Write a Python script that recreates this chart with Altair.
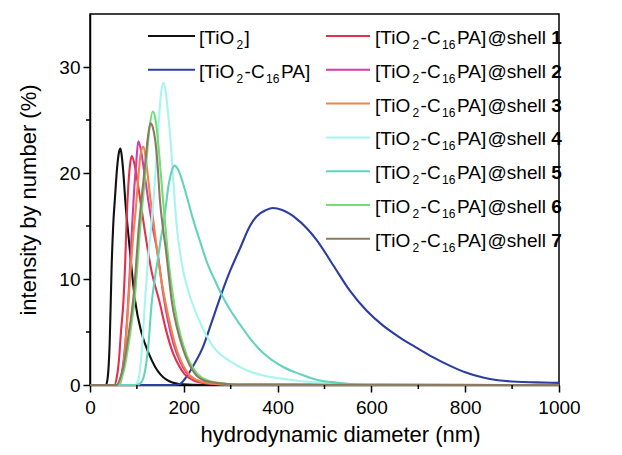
import altair as alt
import pandas as pd

FONT = "Liberation Sans"

# ---------------- data ----------------
series_keys = ["TiO2", "TiO2-C16PA", "shell 1", "shell 2", "shell 3",
               "shell 4", "shell 5", "shell 6", "shell 7"]
series_colors = ["#111111", "#2b3ea0", "#e0324c", "#d23ca8", "#ee8544",
                 "#a8f4ee", "#63d4bc", "#74de74", "#8a7a62"]

tio2_x = [0, 34, 38, 42, 46, 50, 53, 58, 62, 65, 68, 72, 75, 80, 85, 96, 110, 125, 139, 163, 190, 250, 1000]
tio2_y = [0, 0, 0.8, 4, 11, 15.5, 17.5, 20.6, 22, 22.3, 21.5, 19.5, 17.5, 15, 12.7, 8, 4.9, 3, 1.7, 0.5, 0.1, 0, 0]

pa_x = [0, 100, 180, 192, 206, 220, 241, 260, 281, 300, 320, 341, 355, 375, 390, 410, 440, 483,
        520, 554, 590, 625, 660, 697, 730, 768, 800, 838, 870, 910, 950, 1000]
pa_y = [0, 0, 0, 0.1, 0.8, 1.8, 3.6, 6, 8.7, 10.9, 12.9, 15.0, 15.9, 16.5, 16.7, 16.5, 15.7, 13.7,
        11.2, 8.9, 7.0, 5.6, 4.5, 3.5, 2.65, 1.8, 1.2, 0.7, 0.45, 0.3, 0.25, 0.2]

s1_x = [0, 52, 57, 62, 66, 71, 75, 78, 82, 86, 89, 95, 102, 107, 117, 130, 149, 162, 177, 190, 202, 220, 250, 300, 1000]
s1_y = [0, 0, 0.7, 2.5, 5, 7.7, 11.5, 15.5, 19, 21, 21.6, 20.8, 19, 17.5, 14.5, 11, 7.7, 5.2, 3, 1.8, 1.0, 0.45, 0.15, 0.05, 0]

s2_x = [0, 60, 66, 72, 78, 84, 89, 94, 98, 103, 108, 115, 124, 134, 145, 156, 166, 178, 192, 205, 225, 255, 300, 1000]
s2_y = [0, 0, 0.7, 2.5, 5.5, 10, 14.3, 18.3, 20.6, 23, 22.3, 20.3, 17.5, 14.8, 12.2, 8.6, 6.1, 3.9, 2.2, 1.2, 0.5, 0.15, 0.03, 0]

s3_x = [0, 62, 68, 74, 80, 86, 92, 98, 103, 108, 114, 121, 129, 136, 143, 151, 160, 172, 185, 198, 213, 235, 270, 320, 1000]
s3_y = [0, 0, 0.8, 3, 6.5, 10.5, 14, 16.8, 19.6, 21.8, 22.5, 20.6, 17.5, 15.2, 12.7, 10.2, 8, 5.5, 3.3, 1.9, 0.9, 0.35, 0.1, 0.02, 0]

s4_x = [0, 95, 102, 110, 117, 124, 131, 139, 146, 151, 156, 161, 166, 171, 177, 185, 192, 200, 210, 220,
        240, 263, 300, 334, 370, 426, 480, 550, 650, 1000]
s4_y = [0, 0, 0.3, 3, 7.7, 12, 15.2, 19.6, 24.4, 27.3, 28.5, 27.8, 25.8, 23.5, 19.6, 15, 12.5, 10.5, 8.8, 7.5,
        5.4, 3.6, 2.2, 1.4, 0.9, 0.5, 0.25, 0.1, 0, 0]

s5_x = [0, 100, 110, 118, 125, 131, 138, 145, 151, 156, 162, 167, 173, 180, 187, 195, 205, 220, 235, 250,
        265, 281, 300, 320, 341, 370, 412, 450, 483, 530, 600, 1000]
s5_y = [0, 0, 0.3, 1.5, 4, 7.5, 10, 12, 13.8, 15, 17, 18.7, 20, 20.7, 20.4, 19.5, 18, 15.6, 13.5, 11.5,
        10, 8.5, 7, 5.7, 4.4, 3, 1.7, 1, 0.5, 0.2, 0, 0]

s6_x = [0, 60, 67, 74, 81, 88, 95, 101, 106, 113, 120, 127, 134, 139, 144, 149, 155, 162, 168, 175,
        187, 200, 213, 228, 250, 290, 340, 1000]
s6_y = [0, 0, 0.6, 1.7, 3.5, 5.6, 8, 11.2, 14.3, 17.6, 21, 24.3, 25.8, 25.2, 23.5, 21, 17.8, 14.3, 11.5, 9,
        5.8, 3.6, 2.1, 1.1, 0.45, 0.12, 0.03, 0]

s7_x = [0, 57, 64, 71, 78, 85, 92, 98, 103, 110, 117, 123, 129, 134, 139, 144, 149, 155, 162, 168, 174,
        186, 199, 212, 227, 250, 290, 340, 1000]
s7_y = [0, 0, 0.6, 1.7, 3.5, 5.6, 8, 11.2, 14.3, 17.6, 20.6, 23.2, 24.7, 24.3, 23.1, 20.8, 17.5, 15, 12.7, 10.3, 8,
        5.3, 3.3, 1.9, 0.9, 0.35, 0.1, 0.02, 0]

curve_x = [tio2_x, pa_x, s1_x, s2_x, s3_x, s4_x, s5_x, s6_x, s7_x]
curve_y = [tio2_y, pa_y, s1_y, s2_y, s3_y, s4_y, s5_y, s6_y, s7_y]

x_major_ticks = [0, 200, 400, 600, 800, 1000]
x_minor_ticks = [100, 300, 500, 700, 900]
y_major_ticks = [0, 10, 20, 30]
y_minor_ticks = [5, 15, 25]

# ---------------- layout ----------------
W, H = 469, 371
x_scale = alt.Scale(domain=[0, 1000], nice=False, zero=False)
y_scale = alt.Scale(domain=[0, 35], nice=False, zero=False)

common = dict(domainColor="black", domainWidth=1.5, tickColor="black", tickWidth=1.5,
              grid=False, labelColor="black", titleColor="black", labelFont=FONT,
              titleFont=FONT, titleFontWeight="normal")

x_axis = alt.Axis(values=x_major_ticks, tickSize=7, labelFontSize=19, labelPadding=6,
                  labelFlush=False, format="d", title="hydrodynamic diameter (nm)",
                  titleFontSize=22, titlePadding=7, titleX=250, orient="bottom", **common)
y_axis = alt.Axis(values=y_major_ticks, tickSize=7, labelFontSize=19, labelPadding=3,
                  format="d", title="intensity by number (%)", titleFontSize=22,
                  titlePadding=18, orient="left", **common)

curve_layers = []
for i, (key, col) in enumerate(zip(series_keys, series_colors)):
    df = pd.DataFrame({"x": curve_x[i], "y": curve_y[i]})
    curve_layers.append(
        alt.Chart(df).mark_line(color=col, strokeWidth=2.1, interpolate="monotone").encode(
            x=alt.X("x:Q", scale=x_scale, axis=x_axis),
            y=alt.Y("y:Q", scale=y_scale, axis=y_axis),
        )
    )

# minor ticks (outward, shorter)
minor_x_layer = alt.Chart(pd.DataFrame({"x": x_minor_ticks})).mark_rule(
    color="black", strokeWidth=1.5).encode(
    x=alt.X("x:Q", scale=x_scale, axis=x_axis),
    y=alt.value(H), y2=alt.value(H + 4))
minor_y_layer = alt.Chart(pd.DataFrame({"y": y_minor_ticks})).mark_rule(
    color="black", strokeWidth=1.5).encode(
    y=alt.Y("y:Q", scale=y_scale, axis=y_axis),
    x=alt.value(0), x2=alt.value(-4))

# ---------------- legend (built from text pieces, Arial metrics) ----------------
WID = {'[': 0.278, ']': 0.278, 'T': 0.611, 'i': 0.222, 'O': 0.778, '-': 0.333, 'C': 0.722,
       'P': 0.667, 'A': 0.667, '@': 1.015, 's': 0.5, 'h': 0.556, 'e': 0.556, 'l': 0.222, ' ': 0.278}
FS, SS, GAP = 19, 12, 1.5


def text_w(t, size):
    return sum(WID.get(c, 0.556) for c in t) * size


base_pa = [("[TiO", "n"), ("2", "s"), ("-C", "n"), ("16", "s"), ("PA]", "n")]
legend_pieces = [
    [("[TiO", "n"), ("2", "s"), ("]", "n")],
    base_pa,
] + [base_pa + [("@shell ", "n"), (str(k), "b")] for k in range(1, 8)]

legend_layers = []
one = alt.Data(values=[{}])
row0, dy = 22, 33.8
for i, (pieces, col) in enumerate(zip(legend_pieces, series_colors)):
    if i < 2:
        lx1, lx2, tx, row = 58, 105, 109, i
    else:
        lx1, lx2, tx, row = 236, 280, 285, i - 2
    yy = row0 + dy * row
    legend_layers.append(
        alt.Chart(one).mark_rule(color=col, strokeWidth=2).encode(
            x=alt.value(lx1), x2=alt.value(lx2), y=alt.value(yy))
    )
    cx = tx
    for t, kind in pieces:
        size = SS if kind == "s" else FS
        if kind == "s":
            cx += GAP
        legend_layers.append(
            alt.Chart(one).mark_text(
                text=t, font=FONT, fontSize=size,
                fontWeight="bold" if kind == "b" else "normal",
                align="left", baseline="alphabetic", color="black",
            ).encode(x=alt.value(cx), y=alt.value(yy + 8 + (5 if kind == "s" else 0)))
        )
        cx += text_w(t, size)
        if kind == "s":
            cx += GAP

chart = alt.layer(*curve_layers, minor_x_layer, minor_y_layer, *legend_layers).properties(
    width=W, height=H,
    autosize=alt.AutoSizeParams(type="none"),
    padding={"left": 82, "top": 6, "right": 55, "bottom": 62},
    background="white",
).configure_view(stroke="black", strokeWidth=1.5)

chart.save("out.html", embed_options={"renderer": "svg", "actions": False})
